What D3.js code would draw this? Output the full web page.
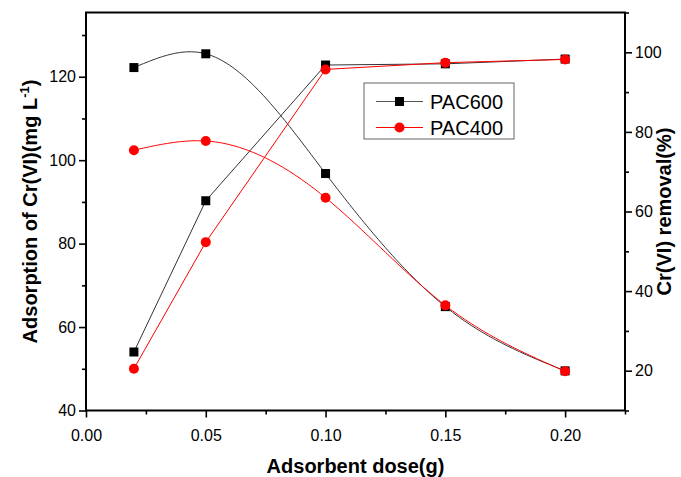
<!DOCTYPE html>
<html>
<head>
<meta charset="utf-8">
<script src="https://cdn.jsdelivr.net/npm/d3@7"></script>
<style>
  html, body { margin:0; padding:0; background:#fff; }
  text { font-family: Arial, "Liberation Sans", sans-serif; }
</style>
</head>
<body>
<div id="vis"></div>
<script>
/* Data */
const doses      = [0.02, 0.05, 0.10, 0.15, 0.20];
const adsPAC600  = [122.2, 125.5, 96.8, 64.9, 49.5];   // left axis, mg L-1
const adsPAC400  = [102.4, 104.6, 91.0, 65.2, 49.4];
const remPAC600  = [24.7, 62.7, 96.8, 97.1, 98.3];     // right axis, %
const remPAC400  = [20.5, 52.3, 95.7, 97.4, 98.2];

const xMajor  = [0, 0.05, 0.10, 0.15, 0.20];
const xMinor  = [0.025, 0.075, 0.125, 0.175, 0.225];
const yLMajor = [40, 60, 80, 100, 120];
const yLMinor = [50, 70, 90, 110, 130];
const yRMajor = [20, 40, 60, 80, 100];
const yRMinor = [10, 30, 50, 70, 90, 110];

const seriesNames = ["PAC600", "PAC400"];

/* Layout */
const W = 681, H = 477;
const L = 86, R = 625, T = 12.5, B = 410.5;

const svg = d3.select("#vis").append("svg")
    .attr("width", W).attr("height", H);

const x  = d3.scaleLinear().domain([0, 0.225]).range([L, R]);
const yL = d3.scaleLinear().domain([40, 135.4]).range([B, T]);
const yR = d3.scaleLinear().domain([10, 110]).range([B, T]);

/* natural cubic spline y(x), like the Origin "spline" connector */
function naturalSpline(xs, ys){
  const n = xs.length, h = [], M = new Array(n).fill(0);
  for(let i=0;i<n-1;i++) h.push(xs[i+1]-xs[i]);
  const a=[], b=[], c=[], d=[];
  for(let i=1;i<n-1;i++){
    a.push(h[i-1]); b.push(2*(h[i-1]+h[i])); c.push(h[i]);
    d.push(6*((ys[i+1]-ys[i])/h[i] - (ys[i]-ys[i-1])/h[i-1]));
  }
  const m = b.length;
  for(let i=1;i<m;i++){
    const w = a[i]/b[i-1];
    b[i] -= w*c[i-1]; d[i] -= w*d[i-1];
  }
  const sol = new Array(m);
  for(let i=m-1;i>=0;i--) sol[i] = (d[i] - (i<m-1 ? c[i]*sol[i+1] : 0))/b[i];
  for(let i=0;i<m;i++) M[i+1] = sol[i];
  return t => {
    let k = 0;
    while(k < n-2 && t > xs[k+1]) k++;
    const hk = h[k], A = (xs[k+1]-t)/hk, Bc = (t-xs[k])/hk;
    return A*ys[k] + Bc*ys[k+1] +
      ((A*A*A - A)*M[k] + (Bc*Bc*Bc - Bc)*M[k+1]) * hk*hk/6;
  };
}

/* Axes */
function styleAxis(g){
  g.select(".domain").remove();
  g.selectAll("line").attr("stroke", "#000").attr("stroke-width", 1.6);
  g.selectAll("text").attr("font-size", 16).attr("fill", "#000");
}

svg.append("g").attr("transform", `translate(0,${B})`)
  .call(d3.axisBottom(x).tickValues(xMajor).tickSize(7).tickPadding(12)
        .tickFormat(d3.format(".2f")))
  .call(styleAxis);
svg.append("g").attr("transform", `translate(0,${B})`)
  .call(d3.axisBottom(x).tickValues(xMinor).tickSize(4).tickFormat(""))
  .call(styleAxis);

svg.append("g").attr("transform", `translate(${L},0)`)
  .call(d3.axisLeft(yL).tickValues(yLMajor).tickSize(7).tickPadding(3))
  .call(styleAxis);
svg.append("g").attr("transform", `translate(${L},0)`)
  .call(d3.axisLeft(yL).tickValues(yLMinor).tickSize(4).tickFormat(""))
  .call(styleAxis);

svg.append("g").attr("transform", `translate(${R},0)`)
  .call(d3.axisRight(yR).tickValues(yRMajor).tickSize(7).tickPadding(3))
  .call(styleAxis);
svg.append("g").attr("transform", `translate(${R},0)`)
  .call(d3.axisRight(yR).tickValues(yRMinor).tickSize(4).tickFormat(""))
  .call(styleAxis);

/* Frame */
svg.append("rect")
  .attr("x", L).attr("y", T).attr("width", R - L).attr("height", B - T)
  .attr("fill", "none").attr("stroke", "#000").attr("stroke-width", 2);

/* Axis titles */
svg.append("text")
  .attr("x", (L + R) / 2).attr("y", 473)
  .attr("text-anchor", "middle").attr("font-size", 20).attr("font-weight", "bold")
  .text("Adsorbent dose(g)");

const lt = svg.append("text")
  .attr("transform", `translate(37,${(T + B) / 2}) rotate(-90)`)
  .attr("text-anchor", "middle").attr("font-size", 20).attr("font-weight", "bold");
lt.append("tspan").text("Adsorption of Cr(VI)(mg L");
lt.append("tspan").attr("font-size", 13).attr("dy", -8).text("-1");
lt.append("tspan").attr("dy", 8).text(")");

svg.append("text")
  .attr("transform", `translate(671,${(T + B) / 2}) rotate(-90)`)
  .attr("text-anchor", "middle").attr("font-size", 20).attr("font-weight", "bold")
  .text("Cr(VI) removal(%)");

/* Series */
const black = "#000", red = "#ff0000";
const lineBlack = "#333";

const sampleX = d3.range(0, 181).map(i => doses[0] + i*(doses[4]-doses[0])/180);
const spline = ys => {
  const f = naturalSpline(doses, ys);
  return d3.line().x(t => x(t)).y(t => yL(f(t)))(sampleX);
};
const straight = ys => d3.line()
  .x((d, i) => x(doses[i])).y(d => yR(d))(ys);

const plot = svg.append("g");

plot.append("path").attr("d", spline(adsPAC600))
  .attr("fill", "none").attr("stroke", lineBlack).attr("stroke-width", 1);
plot.append("path").attr("d", straight(remPAC600))
  .attr("fill", "none").attr("stroke", lineBlack).attr("stroke-width", 1);

function squares(vals, yScale){
  plot.selectAll(null).data(vals).join("rect")
    .attr("x", (d, i) => x(doses[i]) - 4.5).attr("y", d => yScale(d) - 4.5)
    .attr("width", 9).attr("height", 9).attr("fill", black);
}
squares(adsPAC600, yL);
squares(remPAC600, yR);

plot.append("path").attr("d", spline(adsPAC400))
  .attr("fill", "none").attr("stroke", red).attr("stroke-width", 1);
plot.append("path").attr("d", straight(remPAC400))
  .attr("fill", "none").attr("stroke", red).attr("stroke-width", 1);

function circles(vals, yScale){
  plot.selectAll(null).data(vals).join("circle")
    .attr("cx", (d, i) => x(doses[i])).attr("cy", d => yScale(d))
    .attr("r", 5).attr("fill", red);
}
circles(adsPAC400, yL);
circles(remPAC400, yR);

/* Legend */
const lg = svg.append("g");
lg.append("rect").attr("x", 364).attr("y", 83).attr("width", 150).attr("height", 56)
  .attr("fill", "#fff").attr("stroke", "#666").attr("stroke-width", 1);

const rows = lg.selectAll("g.row").data(seriesNames).join("g")
  .attr("class", "row")
  .attr("transform", (d, i) => `translate(0,${101.5 + i * 26})`);
rows.append("line").attr("x1", 376).attr("x2", 423)
  .attr("stroke", (d, i) => i === 0 ? "#555" : red).attr("stroke-width", 1);
rows.filter((d, i) => i === 0).append("rect")
  .attr("x", 395).attr("y", -4.5).attr("width", 9).attr("height", 9).attr("fill", black);
rows.filter((d, i) => i === 1).append("circle")
  .attr("cx", 399.5).attr("cy", 0).attr("r", 5).attr("fill", red);
rows.append("text").attr("x", 430).attr("y", 7).attr("font-size", 20)
  .attr("fill", "#000").text(d => d);
</script>
</body>
</html>
